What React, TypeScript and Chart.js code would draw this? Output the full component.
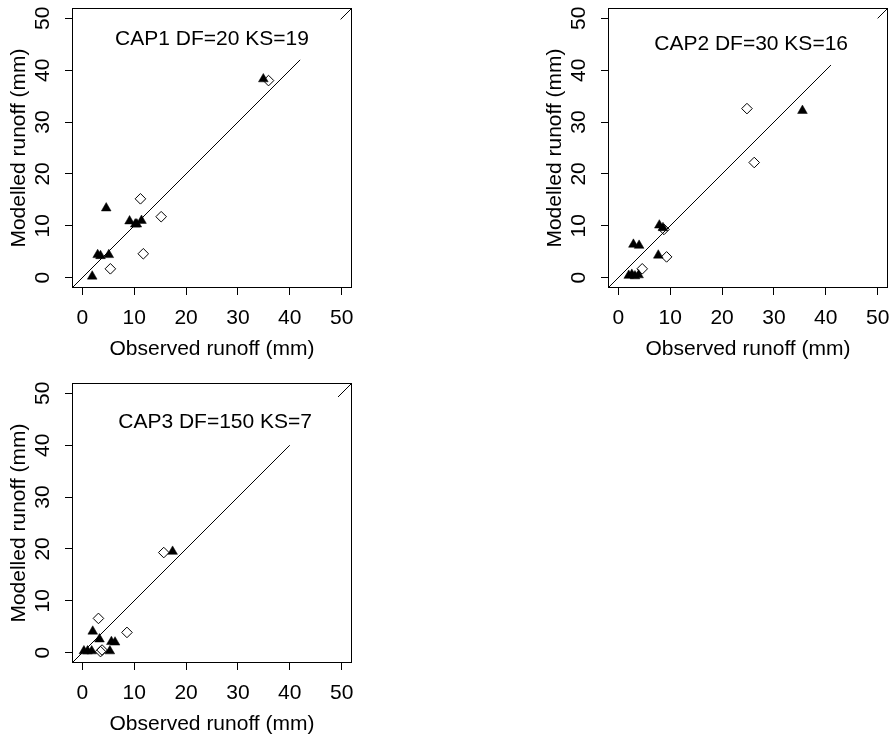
import React, { useEffect, useRef } from 'react';
import { Chart, registerables } from 'chart.js';

Chart.register(...registerables);

// ---- shared axis data ----
const tickValues = [0, 10, 20, 30, 40, 50];
const axisMin = -2;
const axisMax = 52;
const xTitle = 'Observed runoff (mm)';
const yTitle = 'Modelled runoff (mm)';

// ---- CAP1 ----
const cap1Label = 'CAP1 DF=20 KS=19';
const cap1LabelPos = [25, 46];
const cap1TriObs = [1.9, 2.95, 3.5, 5.1, 4.6, 9.1, 10.2, 10.5, 11.4, 34.9];
const cap1TriMod = [0.25, 4.4, 4.2, 4.4, 13.4, 10.9, 10.3, 10.3, 11.0, 38.3];
const cap1DiaObs = [5.4, 11.2, 15.2, 11.75, 35.9];
const cap1DiaMod = [1.7, 15.2, 11.75, 4.6, 38.0];
const cap1LineA = [-2, 42];
const cap1LineB = [49.8, 52];

// ---- CAP2 ----
const cap2Label = 'CAP2 DF=30 KS=16';
const cap2LabelPos = [25.6, 45];
const cap2TriObs = [2.0, 2.6, 3.2, 3.9, 2.9, 4.0, 7.9, 8.6, 7.7, 35.5];
const cap2TriMod = [0.4, 0.6, 0.3, 0.5, 6.4, 6.2, 10.1, 9.6, 4.3, 32.2];
const cap2DiaObs = [24.8, 26.2, 9.3, 4.6, 8.8];
const cap2DiaMod = [32.6, 22.2, 4.0, 1.7, 9.3];
const cap2LineA = [-2, 41];
const cap2LineB = [50, 52];

// ---- CAP3 ----
const cap3Label = 'CAP3 DF=150 KS=7';
const cap3LabelPos = [25.6, 44.5];
const cap3TriObs = [0.3, 1.0, 1.8, 2.0, 3.3, 5.3, 5.6, 6.3, 17.4];
const cap3TriMod = [0.3, 0.3, 0.3, 4.1, 2.6, 0.3, 2.1, 2.0, 19.5];
const cap3DiaObs = [3.1, 8.6, 3.5, 3.8, 15.7];
const cap3DiaMod = [6.6, 3.9, 0.2, 0.5, 19.3];
const cap3LineA = [-2, 40];
const cap3LineB = [49.3, 52];

const FONT = '"Liberation Sans", Arial, Helvetica, sans-serif';
const FONT_SIZE = 21;
const CW = 445;
const CH = 367;

type PanelSpec = {
  label: string;
  labelPos: number[];
  triObs: number[];
  triMod: number[];
  diaObs: number[];
  diaMod: number[];
  lineA: number[];
  lineB: number[];
};

const panels: PanelSpec[] = [
  { label: cap1Label, labelPos: cap1LabelPos, triObs: cap1TriObs, triMod: cap1TriMod, diaObs: cap1DiaObs, diaMod: cap1DiaMod, lineA: cap1LineA, lineB: cap1LineB },
  { label: cap2Label, labelPos: cap2LabelPos, triObs: cap2TriObs, triMod: cap2TriMod, diaObs: cap2DiaObs, diaMod: cap2DiaMod, lineA: cap2LineA, lineB: cap2LineB },
  { label: cap3Label, labelPos: cap3LabelPos, triObs: cap3TriObs, triMod: cap3TriMod, diaObs: cap3DiaObs, diaMod: cap3DiaMod, lineA: cap3LineA, lineB: cap3LineB },
];

const boxPlugin = {
  id: 'rbox',
  afterDraw(chart: any) {
    const { ctx, chartArea } = chart;
    const { left, top, right, bottom } = chartArea;
    ctx.save();
    ctx.strokeStyle = '#000';
    ctx.lineWidth = 1;
    ctx.strokeRect(Math.round(left) + 0.5, Math.round(top) + 0.5, Math.round(right - left) - 1, Math.round(bottom - top) - 1);
    ctx.restore();
  },
};

const labelPlugin = {
  id: 'rlabel',
  afterDatasetsDraw(chart: any) {
    const spec = chart.options.plugins.rlabel;
    if (!spec) return;
    const { ctx, scales } = chart;
    ctx.save();
    ctx.fillStyle = '#000';
    ctx.font = `${FONT_SIZE}px ${FONT}`;
    ctx.textAlign = 'center';
    ctx.textBaseline = 'middle';
    ctx.fillText(spec.text, scales.x.getPixelForValue(spec.x), scales.y.getPixelForValue(spec.y));
    ctx.restore();
  },
};

function makeConfig(p: PanelSpec): any {
  const font = { family: FONT, size: FONT_SIZE, lineHeight: 1.2 };
  const lineDs = (arr: number[]) => ({
    data: arr.map((v) => ({ x: v, y: v })),
    showLine: true,
    pointRadius: 0,
    borderColor: '#000',
    borderWidth: 1,
    order: 3,
  });
  return {
    type: 'scatter',
    data: {
      datasets: [
        {
          label: 'diamonds',
          data: p.diaObs.map((x, i) => ({ x, y: p.diaMod[i] })),
          pointStyle: 'rectRot',
          pointRadius: 5.3,
          borderColor: '#000',
          backgroundColor: 'rgba(0,0,0,0)',
          borderWidth: 1,
          order: 1,
        },
        {
          label: 'triangles',
          data: p.triObs.map((x, i) => ({ x, y: p.triMod[i] })),
          pointStyle: 'triangle',
          pointRadius: 5.6,
          borderColor: '#000',
          backgroundColor: '#000',
          borderWidth: 0.5,
          order: 2,
        },
        lineDs(p.lineA),
        lineDs(p.lineB),
      ],
    },
    options: {
      animation: false,
      responsive: false,
      devicePixelRatio: 1,
      events: [],
      layout: { autoPadding: false, padding: { left: 6.5, top: 8, right: 93, bottom: 0 } },
      plugins: {
        legend: { display: false },
        tooltip: { enabled: false },
        rlabel: { text: p.label, x: p.labelPos[0], y: p.labelPos[1] },
      },
      scales: {
        x: {
          type: 'linear',
          position: 'bottom',
          min: axisMin,
          max: axisMax,
          afterBuildTicks: (s: any) => {
            s.ticks = tickValues.map((v) => ({ value: v }));
          },
          afterFit: (s: any) => {
            s.height = CH - 288;
            s.paddingLeft = 0;
            s.paddingRight = 0;
            s.paddingTop = 0;
            s.paddingBottom = 0;
          },
          grid: { display: true, drawOnChartArea: false, drawTicks: true, tickLength: 7, color: '#000', lineWidth: 1 },
          border: { display: false },
          ticks: { color: '#000', font, padding: 10.9, maxRotation: 0, minRotation: 0, autoSkip: false, callback: (v: any) => String(v) },
          title: { display: true, text: xTitle, color: '#000', font, padding: { top: 0, bottom: 5.4 } },
        },
        y: {
          type: 'linear',
          position: 'left',
          min: axisMin,
          max: axisMax,
          afterBuildTicks: (s: any) => {
            s.ticks = tickValues.map((v) => ({ value: v }));
          },
          afterFit: (s: any) => {
            s.width = 72 - 6.5;
            s.paddingLeft = 0;
            s.paddingRight = 0;
            s.paddingTop = 0;
            s.paddingBottom = 0;
          },
          grid: { display: true, drawOnChartArea: false, drawTicks: true, tickLength: 7, color: '#000', lineWidth: 1 },
          border: { display: false },
          ticks: { color: '#000', font, padding: 10.3, minRotation: 90, maxRotation: 90, crossAlign: 'center', autoSkip: false, callback: (v: any) => String(v) },
          title: { display: true, text: yTitle, color: '#000', font, padding: { top: 0, bottom: 0 } },
        },
      },
    },
    plugins: [boxPlugin, labelPlugin],
  };
}

function Panel({ spec, left, top }: { spec: PanelSpec; left: number; top: number }) {
  const ref = useRef<HTMLCanvasElement>(null);
  useEffect(() => {
    const chart = new Chart(ref.current as HTMLCanvasElement, makeConfig(spec));
    return () => chart.destroy();
  }, [spec]);
  return (
    <canvas
      ref={ref}
      width={CW}
      height={CH}
      style={{ position: 'absolute', left, top, width: CW, height: CH }}
    />
  );
}

export default function App() {
  return (
    <div style={{ position: 'absolute', left: 0, top: 0, width: 891, height: 735, overflow: 'hidden', background: '#fff' }}>
      <Panel spec={panels[0]} left={0} top={0} />
      <Panel spec={panels[1]} left={536} top={0} />
      <Panel spec={panels[2]} left={0} top={375} />
    </div>
  );
}
